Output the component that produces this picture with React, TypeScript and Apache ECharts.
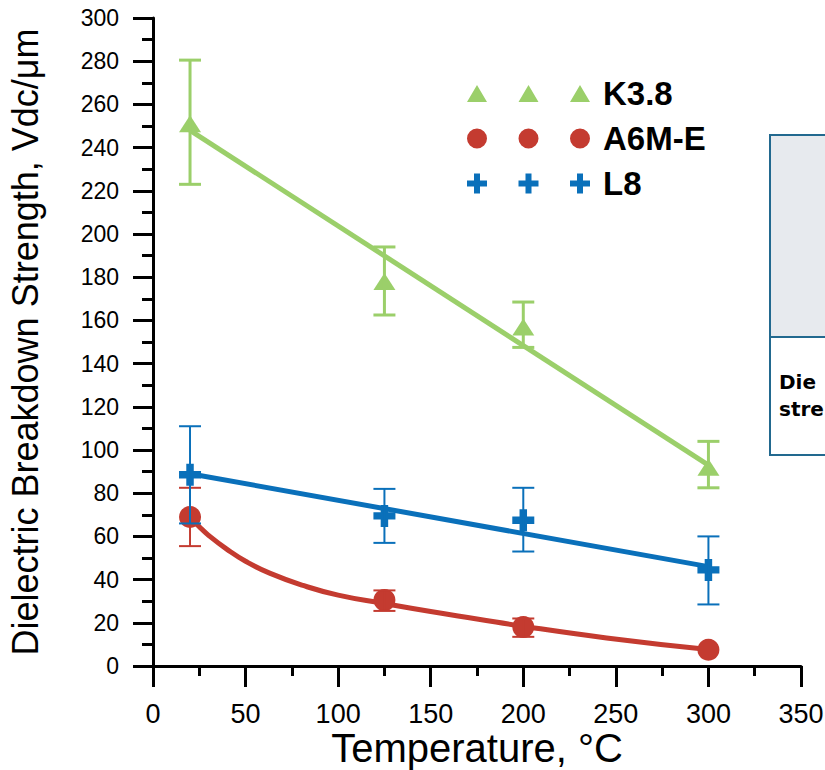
import React, { useEffect, useRef } from "react";
import * as echarts from "echarts";

// ---- data ----
const temps = [20, 125, 200, 300];

const k38 = [251, 178, 157, 92];
const k38Low = [223, 162.5, 147.5, 82.5];
const k38High = [280.5, 194, 168.5, 104];

const a6m = [69, 30.5, 18, 7.5];
const a6mLow = [55.5, 25.5, 13.5, 7.5];
const a6mHigh = [82.5, 35, 22, 7.5];

const l8 = [88.5, 69.5, 67.5, 44.5];
const l8Low = [66, 57, 53, 28.5];
const l8High = [111, 82, 82.5, 60];

// trend lines
const fitT = [20, 300];
const k38Fit = [248, 93];
const l8Fit = [89, 46];
const a6mCurveT = [20, 25, 30, 40, 50, 63, 81, 100, 125, 150, 175, 200, 245, 300];
const a6mCurve = [69, 64.5, 60.5, 54, 48.5, 43, 37.3, 32.8, 28.9, 25.2, 21.8, 18.4, 13, 7.6];

const xTicks = { min: 0, max: 350, interval: 50 };
const yTicks = { min: 0, max: 300, interval: 20 };

const boxLines = ["Die", "stre"];

const GREEN = "#9BCF6A";
const RED = "#C43B30";
const BLUE = "#0A70BA";

const PLUS = "path://M3.3,0H6.7V3.3H10V6.7H6.7V10H3.3V6.7H0V3.3H3.3Z";

const triIcon =
  "path://M0,17L10,0L20,17ZM51.5,17L61.5,0L71.5,17ZM103,17L113,0L123,17Z";
const circIcon =
  "path://M0,10A10,10 0 1,0 20,10A10,10 0 1,0 0,10ZM51.5,10A10,10 0 1,0 71.5,10A10,10 0 1,0 51.5,10ZM103,10A10,10 0 1,0 123,10A10,10 0 1,0 103,10Z";
const plusIcon =
  "path://M7,0H13V7H20V13H13V20H7V13H0V7H7ZM58.5,0H64.5V7H71.5V13H64.5V20H58.5V13H51.5V7H58.5ZM110,0H116V7H123V13H116V20H110V13H103V7H110Z";

function zip(xs: number[], ys: number[]) {
  return xs.map((x, i) => [x, ys[i]]);
}

function errorSeries(
  lows: number[],
  highs: number[],
  color: string,
  width: number
): any {
  return {
    type: "custom",
    z: 4,
    silent: true,
    encode: { x: 0, y: [1, 2] },
    data: temps
      .map((t, i) => [t, lows[i], highs[i]])
      .filter((d) => d[2] - d[1] > 0.5),
    renderItem: (params: any, api: any) => {
      const x = api.value(0);
      const lo = api.coord([x, api.value(1)]);
      const hi = api.coord([x, api.value(2)]);
      const hw = 11;
      const style = { stroke: color, lineWidth: width };
      return {
        type: "group",
        children: [
          { type: "line", shape: { x1: lo[0], y1: lo[1], x2: hi[0], y2: hi[1] }, style },
          { type: "line", shape: { x1: lo[0] - hw, y1: lo[1], x2: lo[0] + hw, y2: lo[1] }, style },
          { type: "line", shape: { x1: hi[0] - hw, y1: hi[1], x2: hi[0] + hw, y2: hi[1] }, style },
        ],
      };
    },
  };
}

export default function App() {
  const ref = useRef<HTMLDivElement>(null);

  useEffect(() => {
    document.body.style.margin = "0";
    if (!ref.current) return;
    const chart = echarts.init(ref.current, null, { renderer: "svg" });

    const axisCommon = {
      axisLine: { show: true, lineStyle: { color: "#000", width: 3 } },
      splitLine: { show: false },
    };

    chart.setOption({
      animation: false,
      backgroundColor: "#fff",
      grid: {
        left: 153,
        top: 18,
        right: 24,
        bottom: 104,
        containLabel: false,
        outerBoundsMode: "none",
      },
      xAxis: {
        type: "value",
        ...xTicks,
        ...axisCommon,
        axisTick: { show: true, inside: false, length: 21, lineStyle: { color: "#000", width: 3 } },
        minorTick: { show: true, splitNumber: 2, length: 10, lineStyle: { color: "#000", width: 3 } },
        axisLabel: {
          color: "#000",
          fontFamily: "Liberation Sans Narrow, Liberation Sans, Arial",
          fontSize: 27,
          lineHeight: 27,
          margin: 34,
        },
        name: "Temperature, °C",
        nameLocation: "middle",
        nameGap: 62,
        nameMoveOverlap: false,
        nameTextStyle: {
          color: "#000",
          fontFamily: "Liberation Sans Narrow, Liberation Sans, Arial",
          fontSize: 40,
          lineHeight: 40,
        },
      },
      yAxis: {
        type: "value",
        ...yTicks,
        ...axisCommon,
        axisTick: { show: true, inside: false, length: 20, lineStyle: { color: "#000", width: 3 } },
        minorTick: { show: true, splitNumber: 2, length: 11, lineStyle: { color: "#000", width: 3 } },
        axisLabel: {
          color: "#000",
          fontFamily: "Liberation Sans, Arial",
          fontSize: 23,
          margin: 34,
        },
        name: "Dielectric Breakdown Strength, Vdc/μm",
        nameLocation: "middle",
        nameGap: 110,
        nameMoveOverlap: false,
        nameTextStyle: {
          color: "#000",
          fontFamily: "Liberation Sans, Arial",
          fontSize: 36,
        },
      },
      legend: {
        show: true,
        orient: "vertical",
        left: 462,
        top: 72,
        itemWidth: 123,
        itemHeight: 20,
        itemGap: 12,
        selectedMode: false,
        textStyle: {
          color: "#000",
          fontFamily: "Liberation Sans, Arial",
          fontWeight: "bold",
          fontSize: 33,
          padding: [0, 0, 0, 8],
        },
        data: [
          { name: "K3.8", icon: triIcon },
          { name: "A6M-E", icon: circIcon },
          { name: "L8", icon: plusIcon },
        ],
      },
      graphic: [
        {
          type: "rect",
          z: 10,
          shape: { x: 770, y: 135, width: 100, height: 320 },
          style: { fill: "#fff", stroke: "#22698F", lineWidth: 2 },
        },
        {
          type: "rect",
          z: 11,
          shape: { x: 771, y: 136, width: 100, height: 201 },
          style: { fill: "#E7EAEE" },
        },
        {
          type: "line",
          z: 12,
          shape: { x1: 770, y1: 337, x2: 870, y2: 337 },
          style: { stroke: "#22698F", lineWidth: 2 },
        },
        ...boxLines.map((t, i) => ({
          type: "text",
          z: 12,
          x: 779,
          y: 382 + i * 27,
          style: {
            text: t,
            fill: "#000",
            font: "bold 20px 'DejaVu Sans', 'Liberation Sans', sans-serif",
            verticalAlign: "middle",
          },
        })),
      ],
      series: [
        {
          type: "line",
          name: "K3.8 fit",
          data: zip(fitT, k38Fit),
          symbol: "none",
          z: 2,
          lineStyle: { color: GREEN, width: 5 },
          silent: true,
        },
        {
          type: "line",
          name: "A6M-E fit",
          data: zip(a6mCurveT, a6mCurve),
          symbol: "none",
          smooth: 0.5,
          z: 2,
          lineStyle: { color: RED, width: 5 },
          silent: true,
        },
        {
          type: "line",
          name: "L8 fit",
          data: zip(fitT, l8Fit),
          symbol: "none",
          z: 2,
          lineStyle: { color: BLUE, width: 5 },
          silent: true,
        },
        {
          type: "scatter",
          name: "K3.8",
          data: zip(temps, k38),
          symbol: "triangle",
          symbolSize: [22, 17],
          z: 3,
          itemStyle: { color: GREEN, opacity: 1 },
        },
        {
          type: "scatter",
          name: "A6M-E",
          data: zip(temps, a6m),
          symbol: "circle",
          symbolSize: 22,
          z: 3,
          itemStyle: { color: RED, opacity: 1 },
        },
        {
          type: "scatter",
          name: "L8",
          data: zip(temps, l8),
          symbol: PLUS,
          symbolSize: 22,
          z: 3,
          itemStyle: { color: BLUE, opacity: 1 },
        },
        errorSeries(k38Low, k38High, GREEN, 3),
        errorSeries(a6mLow, a6mHigh, RED, 2),
        errorSeries(l8Low, l8High, BLUE, 2),
      ],
    });

    return () => chart.dispose();
  }, []);

  return <div ref={ref} style={{ width: 825, height: 770 }} />;
}
